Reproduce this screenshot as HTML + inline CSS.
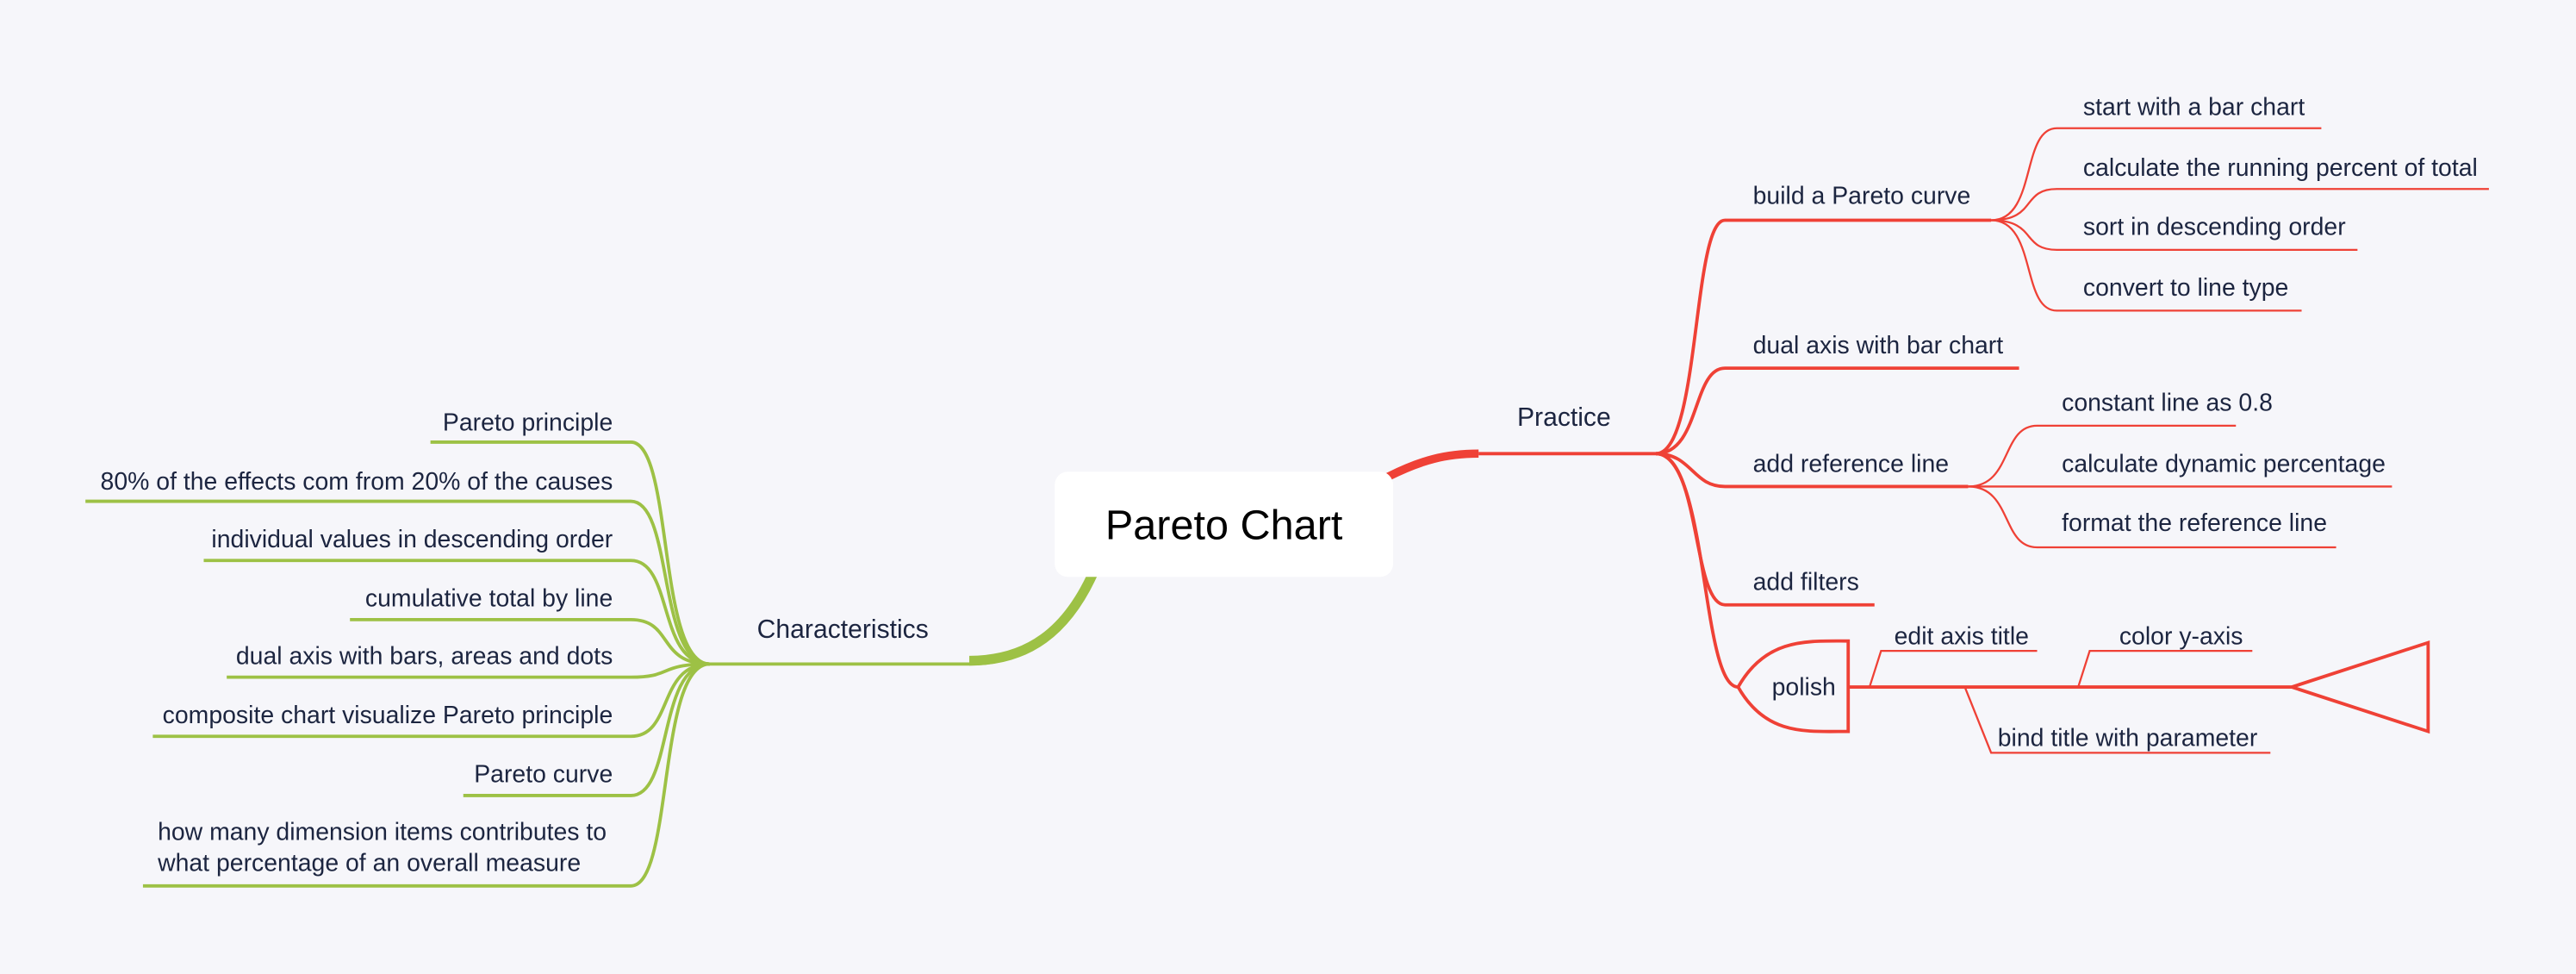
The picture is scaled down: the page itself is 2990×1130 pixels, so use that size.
<!DOCTYPE html>
<html><head><meta charset="utf-8"><style>
html,body{margin:0;padding:0;background:#f6f6fa;}
svg{display:block;}
text{font-family:"Liberation Sans",sans-serif;fill:#1c2540;}
</style></head><body>
<svg width="2990" height="1130" viewBox="0 0 1568 592.6" xmlns="http://www.w3.org/2000/svg">
<rect width="1568" height="593" fill="#f6f6fa"/>
<path d="M667,345 C650,385 625,404 590,404 L432,404" fill="none" stroke="#9dc145" stroke-width="2"/>
<path d="M667,345 C650,385 625,402 590,402" fill="none" stroke="#9dc145" stroke-width="6"/>
<g fill="none" stroke="#9dc145" stroke-width="2">
<path d="M432,404 C400,404 410,269 384,269 L262,269"/>
<path d="M432,404 C400,404 410,305 384,305 L52,305"/>
<path d="M432,404 C400,404 410,341 384,341 L124,341"/>
<path d="M432,404 C400,404 410,377 384,377 L213,377"/>
<path d="M432,404 C400,404 410,412 384,412 L138,412"/>
<path d="M432,404 C400,404 410,448 384,448 L93,448"/>
<path d="M432,404 C400,404 410,484 384,484 L282,484"/>
<path d="M432,404 C400,404 410,539 384,539 L87,539"/>
</g>
<g font-size="14.9" text-anchor="end">
<text x="373" y="262">Pareto principle</text>
<text x="373" y="298">80% of the effects com from 20% of the causes</text>
<text x="373" y="333">individual values in descending order</text>
<text x="373" y="369">cumulative total by line</text>
<text x="373" y="404">dual axis with bars, areas and dots</text>
<text x="373" y="440">composite chart visualize Pareto principle</text>
<text x="373" y="476">Pareto curve</text>
</g>
<text x="96" y="511" font-size="14.9">how many dimension items contributes to</text>
<text x="96" y="530" font-size="14.9">what percentage of an overall measure</text>
<text x="513" y="388" font-size="15.8" text-anchor="middle">Characteristics</text>
<path d="M845,290 C865,280 880,276 900,276" fill="none" stroke="#ef4136" stroke-width="5"/>
<path d="M900,276 L1008,276" fill="none" stroke="#ef4136" stroke-width="2"/>
<text x="952" y="259" font-size="15.8" text-anchor="middle">Practice</text>
<g fill="none" stroke="#ef4136" stroke-width="2">
<path d="M1008,276 C1035,276 1030,134 1050,134 L1212,134"/>
<path d="M1008,276 C1035,276 1030,224 1050,224 L1229,224"/>
<path d="M1008,276 C1030,276 1030,296 1050,296 L1198,296"/>
<path d="M1008,276 C1035,276 1030,368 1050,368 L1141,368"/>
<path d="M1008,276 C1040,276 1035,418 1058,418"/>
<path d="M1058,418 C1075,388 1100,390 1125,390 L1125,445 C1100,445 1075,448 1058,418"/>
<path d="M1125,418 L1395,418 L1478,391 L1478,445 L1395,418"/>
</g>
<g fill="none" stroke="#ef4136" stroke-width="1.2">
<path d="M1212,134 C1240,134 1230,78 1252,78 L1413,78"/>
<path d="M1212,134 C1240,134 1230,115 1252,115 L1515,115"/>
<path d="M1212,134 C1240,134 1230,152 1252,152 L1435,152"/>
<path d="M1212,134 C1240,134 1230,189 1252,189 L1401,189"/>
<path d="M1198,296 C1225,296 1218,259 1240,259 L1361,259"/>
<path d="M1198,296 L1456,296"/>
<path d="M1198,296 C1225,296 1218,333 1240,333 L1422,333"/>
<path d="M1138,418 L1145,396 L1240,396"/>
<path d="M1265,418 L1272,396 L1371,396"/>
<path d="M1196,418 L1212,458 L1382,458"/>
</g>
<g font-size="14.9">
<text x="1067" y="124">build a Pareto curve</text>
<text x="1067" y="215">dual axis with bar chart</text>
<text x="1067" y="287">add reference line</text>
<text x="1067" y="359">add filters</text>
<text x="1098" y="423" text-anchor="middle">polish</text>
<text x="1268" y="70">start with a bar chart</text>
<text x="1268" y="107">calculate the running percent of total</text>
<text x="1268" y="143">sort in descending order</text>
<text x="1268" y="180">convert to line type</text>
<text x="1255" y="250">constant line as 0.8</text>
<text x="1255" y="287">calculate dynamic percentage</text>
<text x="1255" y="323">format the reference line</text>
<text x="1153" y="392">edit axis title</text>
<text x="1290" y="392">color y-axis</text>
<text x="1216" y="454">bind title with parameter</text>
</g>
<rect x="642" y="287" width="206" height="64" rx="8" fill="#ffffff"/>
<text x="745" y="328" font-size="25.5" text-anchor="middle" style="fill:#000">Pareto Chart</text>
</svg>
</body></html>
